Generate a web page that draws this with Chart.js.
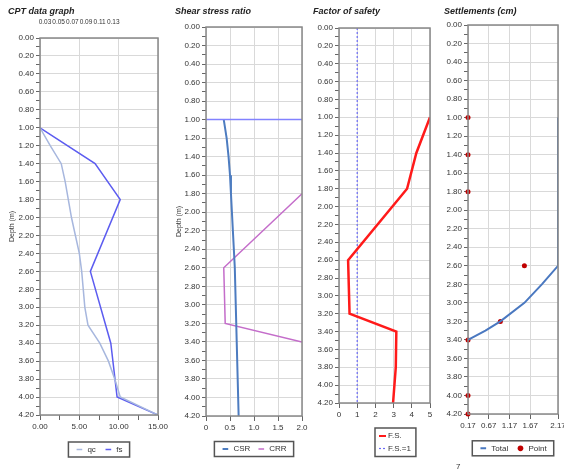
<!DOCTYPE html>
<html>
<head>
<meta charset="utf-8">
<title>CPT liquefaction results</title>
<script src="https://cdn.jsdelivr.net/npm/chart.js@4.4.0/dist/chart.umd.min.js"></script>
<style>
    html, body { margin: 0; padding: 0; background: #fff; }
    body { width: 564px; height: 476px; position: relative; overflow: hidden; }
    .panel { position: absolute; top: 0; height: 476px; }
    .pagenum { position: absolute; left: 456px; top: 462px; font: 8px 'Liberation Sans', sans-serif; color: #333; }
</style>
</head>
<body>
<div class="panel" style="left:8px;width:162px"><canvas id="cptChart"></canvas></div>
<div class="panel" style="left:175px;width:135px"><canvas id="ratioChart"></canvas></div>
<div class="panel" style="left:313px;width:123px"><canvas id="safetyChart"></canvas></div>
<div class="panel" style="left:444px;width:122px"><canvas id="settleChart"></canvas></div>
<div class="pagenum">7</div>

<script>
// ---- Data (depth in m) ----

// CPT data graph
const qcDepth  = [1.0, 1.2, 1.4, 1.6, 1.8, 2.0, 2.2, 2.4, 2.6, 2.8, 3.0, 3.2, 3.4, 3.6, 3.8, 4.0, 4.2];
const qcValues = [0, 1.3, 2.7, 3.2, 3.6, 4.0, 4.5, 5.0, 5.3, 5.5, 5.7, 6.1, 7.6, 8.7, 9.5, 10.2, 15.0];
const fsDepth  = [1.0, 1.4, 1.8, 2.6, 3.4, 4.0, 4.2];
const fsValues = [0, 7.0, 10.2, 6.4, 9.0, 9.8, 15.0];
const cptTopTicks = [0.03, 0.05, 0.07, 0.09, 0.11, 0.13];

// Shear stress ratio
const waterDepth = [1.0, 1.0];
const waterRatio = [0, 2];
const csrDepth  = [1.0, 1.2, 1.4, 1.6, 1.8, 2.0, 2.2, 2.6, 3.0, 3.4, 3.8, 4.2];
const csrValues = [0.37, 0.43, 0.47, 0.50, 0.52, 0.54, 0.56, 0.60, 0.62, 0.64, 0.66, 0.68];
const crrDepth  = [1.8, 2.6, 3.2, 3.4];
const crrValues = [2.0, 0.37, 0.40, 2.0];

// Factor of safety
const safetyDepth  = [1.0, 1.4, 1.8, 2.6, 3.2, 3.4, 3.8, 4.2];
const safetyValues = [5.0, 4.25, 3.74, 0.5, 0.58, 3.15, 3.12, 2.97];
const unityDepth  = [0, 4.2];
const unityValues = [1, 1];

// Settlements (cm)
const totalDepth  = [1.0, 2.6, 2.8, 3.0, 3.2, 3.3, 3.4];
const totalValues = [2.17, 2.17, 1.78, 1.36, 0.78, 0.42, 0.0];
const pointDepth  = [1.0, 1.4, 1.8, 2.6, 3.2, 3.4, 4.0, 4.2];
const pointValues = [0, 0, 0, 1.36, 0.78, 0, 0, 0];
const settleTickPos    = [0, 0.5, 1, 1.5, 2.17];
const settleTickLabels = ['0.17', '0.67', '1.17', '1.67', '2.17'];

// ---- Styling helpers ----
const FONT = "'Liberation Sans', Arial, sans-serif";
const tickFont = { family: FONT, size: 8 };
const GRID = '#d9d9d9';
const CLEAR = 'rgba(0,0,0,0)';

const pts = (xs, ys) => xs.map((x, i) => ({ x: x, y: ys[i] }));

function line(label, xs, ys, color, width, dash) {
    return {
        label: label,
        data: pts(xs, ys),
        showLine: true,
        borderColor: color,
        backgroundColor: color,
        borderWidth: width,
        borderDash: dash || [],
        pointRadius: 0,
        pointStyle: 'line'
    };
}

// Minor ticks every 0.1 m, labels + grid only every 0.2 m
function depthAxis(width, showTitle) {
    return {
        type: 'linear',
        reverse: true,
        min: 0,
        max: 4.2,
        afterFit: s => { s.width = width; },
        ticks: {
            stepSize: 0.1,
            autoSkip: false,
            padding: 2,
            color: '#333',
            font: tickFont,
            callback: v => Math.round(v * 10) % 2 ? '' : v.toFixed(2)
        },
        grid: {
            color: c => (c.tick && Math.round(c.tick.value * 10) % 2) ? CLEAR : GRID,
            tickColor: '#666',
            tickLength: 4
        },
        border: { display: false },
        title: { display: showTitle, text: 'Depth (m)', color: '#333', font: { family: FONT, size: 7 }, padding: 0 }
    };
}

// no extra side padding for edge labels, the canvas already leaves room
function fixWidth(s, height) {
    s.height = height;
    s.paddingLeft = 0;
    s.paddingRight = 0;
}

function valueAxis(o) {
    const axis = {
        type: 'linear',
        position: 'bottom',
        min: o.min,
        max: o.max,
        afterFit: s => fixWidth(s, o.height || 22),
        ticks: {
            stepSize: o.step,
            autoSkip: false,
            maxRotation: 0,
            padding: 2,
            color: '#333',
            font: tickFont
        },
        grid: { color: o.gridColor || GRID, tickColor: '#666', tickLength: 5 },
        border: { display: false }
    };
    if (o.label) axis.ticks.callback = o.label;
    if (o.ticks) axis.afterBuildTicks = s => { s.ticks = o.ticks.map(v => ({ value: v })); };
    return axis;
}

function boxAround(ctx, l, t, r, b) {
    ctx.strokeStyle = '#555';
    ctx.lineWidth = 1.5;
    ctx.strokeRect(l, t, r - l, b - t);
}

// Plot frame + box around the legend
const framePlugin = {
    id: 'frame',
    afterDraw(chart) {
        const { ctx, chartArea: a } = chart;
        ctx.save();
        ctx.strokeStyle = '#888';
        ctx.lineWidth = 1.5;
        ctx.strokeRect(a.left, a.top, a.right - a.left, a.bottom - a.top);

        const boxes = chart.legend && chart.options.plugins.legend.display && chart.legend.legendHitBoxes;
        if (boxes && boxes.length) {
            const l = Math.min(...boxes.map(b => b.left));
            const r = Math.max(...boxes.map(b => b.left + b.width));
            const t = Math.min(...boxes.map(b => b.top));
            const bt = Math.max(...boxes.map(b => b.top + b.height));
            boxAround(ctx, l - 7, t - 3.5, r + 7, bt + 3.5);
        }
        ctx.restore();
    }
};

// Legend with one item per row (factor of safety panel)
const stackedLegend = {
    id: 'stackedLegend',
    afterDraw(chart, args, opts) {
        if (!opts || !opts.display) return;
        const ctx = chart.ctx;
        const sets = chart.data.datasets.filter(d => d.label);
        ctx.save();
        ctx.font = '8px ' + FONT;
        ctx.textBaseline = 'middle';
        let w = 0;
        sets.forEach((d, i) => {
            const y = opts.top + i * opts.rowHeight;
            ctx.strokeStyle = d.borderColor;
            ctx.lineWidth = Math.min(d.borderWidth, 2);
            ctx.setLineDash(d.borderDash || []);
            ctx.beginPath();
            ctx.moveTo(opts.left, y);
            ctx.lineTo(opts.left + 7, y);
            ctx.stroke();
            ctx.setLineDash([]);
            ctx.fillStyle = '#333';
            ctx.fillText(d.label, opts.left + 9, y);
            w = Math.max(w, 9 + ctx.measureText(d.label).width);
        });
        boxAround(ctx, opts.left - 4, opts.top - 8, opts.left + w + 5, opts.top + (sets.length - 1) * opts.rowHeight + 8);
        ctx.restore();
    }
};

function panel(id, cfg) {
    return new Chart(document.getElementById(id), {
        type: 'scatter',
        data: { datasets: cfg.datasets },
        options: {
            responsive: true,
            maintainAspectRatio: false,
            animation: false,
            layout: { padding: cfg.padding },
            scales: cfg.scales,
            plugins: {
                title: {
                    display: true,
                    text: cfg.title,
                    align: 'start',
                    color: '#222',
                    font: { family: FONT, size: 9, weight: 'bold', style: 'italic' },
                    padding: { top: 6, bottom: cfg.titleGap }
                },
                legend: {
                    display: !cfg.stacked,
                    position: 'bottom',
                    fullSize: false,
                    labels: {
                        usePointStyle: true,
                        boxWidth: 8,
                        boxHeight: 4,
                        padding: cfg.legendPad,
                        color: '#333',
                        font: { family: FONT, size: 8 },
                        filter: item => !!item.text
                    }
                },
                stackedLegend: cfg.stacked || { display: false },
                tooltip: { enabled: false }
            }
        },
        plugins: [framePlugin, stackedLegend]
    });
}

// 1. CPT data graph
panel('cptChart', {
    title: 'CPT data graph',
    titleGap: 0,
    padding: { left: 0, right: 12, top: 0, bottom: 12.5 },
    legendPad: 8.5,
    datasets: [
        line('qc', qcValues, qcDepth, '#a7b7de', 1.5),
        line('fs', fsValues, fsDepth, '#5c5cf0', 1.5)
    ],
    scales: {
        y: depthAxis(32, true),
        x: valueAxis({
            min: 0, max: 15, step: 2.5,
            label: v => v % 5 ? '' : v.toFixed(2),
            gridColor: c => (c.tick && c.tick.value % 5) ? CLEAR : GRID
        }),
        xTop: {
            type: 'linear',
            position: 'top',
            min: 0.0227,
            max: 0.1955,
            afterFit: s => fixWidth(s, 21.2),
            afterBuildTicks: s => { s.ticks = cptTopTicks.map(v => ({ value: v })); },
            ticks: { autoSkip: false, maxRotation: 0, padding: 4, color: '#333', font: { family: FONT, size: 6.5 }, callback: v => v.toFixed(2) },
            grid: { display: false },
            border: { display: false }
        }
    }
});

// 2. Shear stress ratio
panel('ratioChart', {
    title: 'Shear stress ratio',
    titleGap: 10.2,
    padding: { left: 0, right: 8, top: 0, bottom: 13 },
    legendPad: 7,
    datasets: [
        line('', waterRatio, waterDepth, '#8282ff', 1.5),
        line('CSR', csrValues, csrDepth, '#4d7cc0', 2),
        line('CRR', crrValues, crrDepth, '#c46dca', 1.5)
    ],
    scales: {
        y: depthAxis(31, true),
        x: valueAxis({ min: 0, max: 2, step: 0.5 })
    }
});

// 3. Factor of safety
panel('safetyChart', {
    title: 'Factor of safety',
    titleGap: 11.2,
    padding: { left: 0, right: 6, top: 0, bottom: 49 },
    stacked: { display: true, left: 66, top: 436, rowHeight: 12.5 },
    datasets: [
        line('F.S.', safetyValues, safetyDepth, '#ff1a1a', 2.5),
        line('F.S.=1', unityValues, unityDepth, '#6a6af5', 1.2, [2, 2])
    ],
    scales: {
        y: depthAxis(26, false),
        x: valueAxis({ min: 0, max: 5, step: 1, height: 24 })
    }
});

// 4. Settlements
panel('settleChart', {
    title: 'Settlements (cm)',
    titleGap: 8.2,
    padding: { left: 0, right: 8, top: 0, bottom: 13.7 },
    legendPad: 8.3,
    datasets: [
        line('Total', totalValues, totalDepth, '#4a78c0', 2),
        {
            label: 'Point',
            data: pts(pointValues, pointDepth),
            showLine: false,
            pointStyle: 'circle',
            pointRadius: 2.5,
            borderWidth: 0,
            backgroundColor: '#c00000',
            borderColor: '#c00000',
            clip: false
        }
    ],
    scales: {
        y: depthAxis(24, false),
        x: valueAxis({
            min: 0, max: 2.17,
            ticks: settleTickPos,
            label: (v, i) => settleTickLabels[i]
        })
    }
});
</script>
</body>
</html>
